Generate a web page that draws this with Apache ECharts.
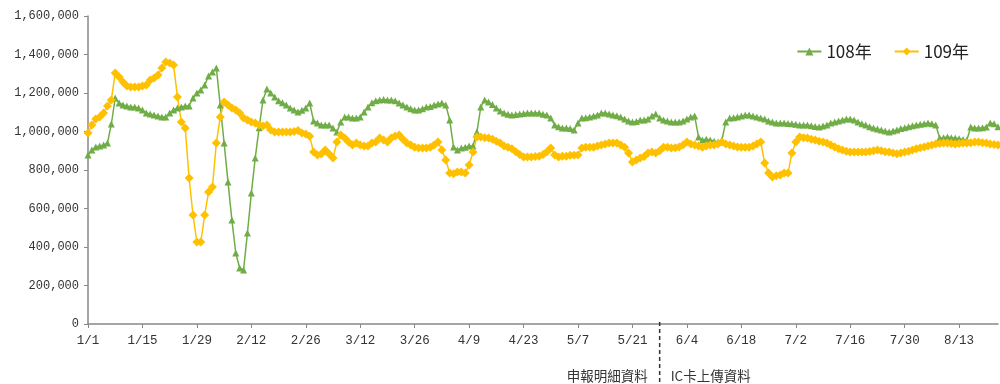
<!DOCTYPE html>
<html>
<head>
<meta charset="utf-8">
<script src="https://cdn.jsdelivr.net/npm/echarts@6/dist/echarts.min.js"></script>
<style>html,body{margin:0;padding:0;background:#fff;}#c{width:1000px;height:384px;}</style>
</head>
<body>
<div id="c"></div>
<script>
// Daily values, day-of-year index 0 = 1/1 (non-leap calendar)
const seriesNames = ['108年', '109年'];
const y108 = [
878,904,920,925,930,940,1039,1174,1148,1138,1133,1127,1127,1122,1112,1096,1091,1086,1080,1075,
1075,1096,1112,1122,1127,1133,1133,1174,1200,1216,1241,1288,1309,1330,1138,940,738,540,369,291,
281,473,680,862,1020,1164,1221,1200,1179,1160,1150,1138,1122,1112,1101,1110,1122,1148,1055,1044,
1034,1034,1034,1018,997,1050,1075,1075,1070,1070,1075,1101,1127,1150,1160,1164,1166,1164,1164,1160,
1148,1138,1127,1118,1112,1112,1118,1127,1130,1138,1143,1148,1138,1060,920,904,914,918,925,925,
997,1127,1164,1153,1140,1122,1107,1096,1090,1086,1088,1091,1094,1096,1096,1096,1096,1090,1086,1070,
1034,1025,1018,1018,1015,1008,1044,1070,1072,1075,1080,1086,1096,1096,1091,1086,1082,1075,1065,1055,
1050,1052,1060,1060,1065,1080,1091,1070,1060,1055,1050,1050,1050,1055,1065,1075,1080,971,956,960,
956,950,945,956,1050,1070,1072,1075,1080,1086,1086,1080,1075,1070,1065,1055,1050,1044,1044,1044,
1042,1040,1038,1034,1034,1034,1030,1026,1023,1028,1034,1044,1050,1055,1060,1065,1065,1060,1050,1040,
1034,1025,1018,1013,1008,1003,997,1003,1008,1015,1020,1025,1030,1034,1038,1040,1044,1040,1034,966,
968,971,968,966,962,958,956,1023,1018,1018,1020,1023,1044,1040,1025
];
const y109 = [
992,1034,1065,1075,1096,1132,1164,1304,1283,1257,1236,1231,1231,1231,1236,1241,1267,1278,1294,1330,
1361,1356,1346,1179,1050,1018,758,566,426,426,566,686,712,940,1075,1153,1138,1122,1112,1096,
1070,1060,1050,1044,1034,1029,1034,1008,997,997,997,997,997,1000,1005,992,987,975,893,878,
883,904,883,862,945,982,966,945,930,940,930,925,925,940,945,966,956,945,966,976,
982,960,940,930,918,914,914,914,918,930,945,904,852,784,780,790,790,784,826,893,
971,971,968,966,960,950,940,925,918,910,895,880,867,867,867,870,872,880,895,914,
878,867,872,872,876,876,878,914,918,918,918,925,930,935,940,940,940,930,918,888,
842,852,862,870,888,893,888,900,918,918,914,916,920,930,945,935,930,925,918,925,
930,930,935,945,935,930,925,920,918,918,918,925,935,945,836,784,764,770,774,784,
784,888,945,971,968,966,960,956,950,945,940,930,920,910,904,898,893,893,893,893,
893,896,900,904,900,895,893,888,885,888,893,898,904,910,915,920,925,930,935,938,
940,940,938,935,938,940,940,942,945,945,942,940,935,932,930
];
const yTicks = [0, 200000, 400000, 600000, 800000, 1000000, 1200000, 1400000, 1600000];
const noteLeft = '申報明細資料';
const noteRight = 'IC卡上傳資料';
const dividerDate = '5/28';

// categories: month/day labels
const monthDays = [31,28,31,30,31,30,31,31,30,31,30,31];
const categories = [];
(function(){
  let m = 0, d = 1;
  for (let i = 0; i < y108.length; i++) {
    categories.push((m + 1) + '/' + d);
    d++;
    if (d > monthDays[m]) { d = 1; m++; }
  }
})();

const chart = echarts.init(document.getElementById('c'), null, {renderer: 'canvas'});
const axisFont = '"Liberation Mono", "DejaVu Sans Mono", monospace';
const opt = {
  animation: false,
  backgroundColor: '#fff',
  grid: {left: 88, right: 2, top: 16, bottom: 60, containLabel: false},
  legend: {
    data: seriesNames,
    right: 26, top: 38,
    itemWidth: 24, itemHeight: 10, itemGap: 22,
    textStyle: {fontFamily: '"Noto Sans CJK TC", sans-serif', fontSize: 17, color: '#222'}
  },
  xAxis: {
    type: 'category',
    data: categories,
    boundaryGap: false,
    axisLine: {lineStyle: {color: '#888', width: 1.5}},
    axisTick: {interval: 13, length: 4, lineStyle: {color: '#888'}},
    axisLabel: {interval: 13, color: '#333', fontFamily: axisFont, fontSize: 12.5, margin: 10},
    splitLine: {show: false}
  },
  yAxis: {
    type: 'value',
    min: yTicks[0], max: yTicks[yTicks.length - 1], interval: yTicks[1] - yTicks[0],
    axisLine: {show: true, lineStyle: {color: '#888', width: 1.5}},
    axisTick: {show: true, length: 4, lineStyle: {color: '#888'}},
    axisLabel: {color: '#333', fontFamily: axisFont, fontSize: 12, margin: 9,
      formatter: v => v.toLocaleString('en-US')},
    splitLine: {show: false}
  },
  series: [
    {
      name: seriesNames[0], type: 'line',
      data: y108.map(v => v * 1000),
      symbol: 'triangle', symbolSize: 7, showAllSymbol: true,
      itemStyle: {color: '#70AD47'},
      lineStyle: {color: '#70AD47', width: 1.5}
    },
    {
      name: seriesNames[1], type: 'line',
      data: y109.map(v => v * 1000),
      symbol: 'diamond', symbolSize: 9, showAllSymbol: true,
      itemStyle: {color: '#FFC000'},
      lineStyle: {color: '#FFC000', width: 1.5}
    }
  ]
};
chart.setOption(opt);

const xDiv = chart.convertToPixel({xAxisIndex: 0}, dividerDate);
const yZero = chart.convertToPixel({yAxisIndex: 0}, 0);
chart.setOption({
  graphic: [
    {type: 'line', shape: {x1: xDiv, y1: yZero - 2, x2: xDiv, y2: 384},
     style: {stroke: '#333', lineWidth: 1.5, lineDash: [4, 3]}, z: 10},
    {type: 'text', x: xDiv - 12, y: 376,
     style: {text: noteLeft, fill: '#333', font: '13.5px "Noto Sans CJK TC", sans-serif',
       align: 'right', verticalAlign: 'middle'}},
    {type: 'text', x: xDiv + 11, y: 376,
     style: {text: noteRight, fill: '#333', font: '13.5px "Noto Sans CJK TC", sans-serif',
       align: 'left', verticalAlign: 'middle'}}
  ]
});
</script>
</body>
</html>
